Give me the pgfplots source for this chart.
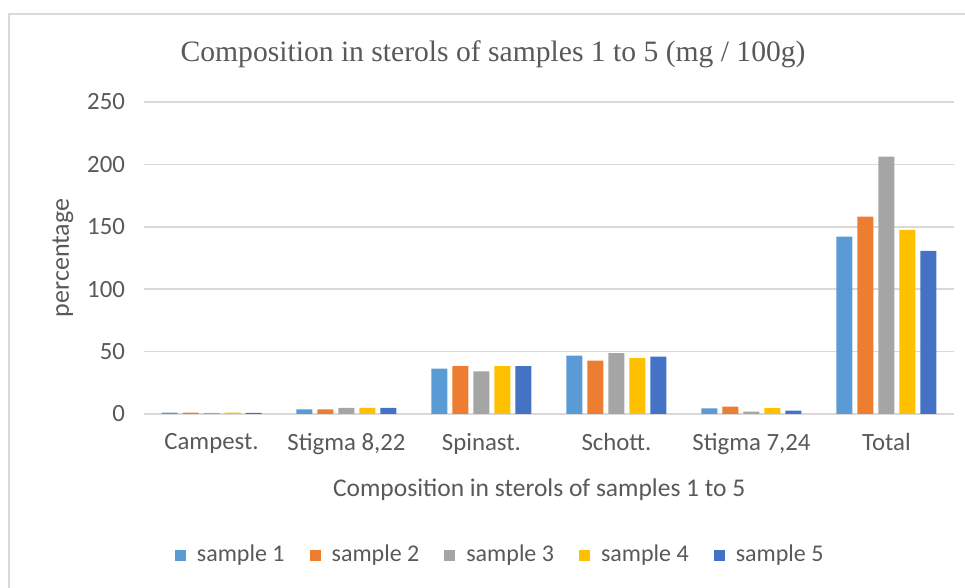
\documentclass[border=0pt]{standalone}
\usepackage{fontspec}
\setmainfont{Carlito}
\newfontfamily\titlefont{Liberation Serif}
\usepackage{pgfplots}
\usepackage{pgfplotstable}
\pgfplotsset{compat=1.18}
\definecolor{sA}{HTML}{5B9BD5}
\definecolor{sB}{HTML}{ED7D31}
\definecolor{sC}{HTML}{A5A5A5}
\definecolor{sD}{HTML}{FFC000}
\definecolor{sE}{HTML}{4472C4}
\definecolor{txt}{HTML}{595959}
\definecolor{grd}{HTML}{D9D9D9}
\pgfplotstableread{
x s1 s2 s3 s4 s5
0 1.0 1.0 0.9 1.0 0.9
1 3.8 3.8 5.0 5.0 5.0
2 36.3 38.3 34.1 38.3 38.3
3 46.8 42.7 48.7 44.7 46.0
4 4.5 5.9 1.9 4.8 2.7
5 142.2 158.2 206.3 147.5 130.7
}\data
\begin{document}
\begin{tikzpicture}
\useasboundingbox (0,0) rectangle (482.5pt,294pt);
\draw[grd, line width=1pt] (4.5pt,0) -- (4.5pt,287pt) -- (482.5pt,287pt);
\begin{axis}[
  at={(72pt,87pt)}, anchor=south west,
  scale only axis, width=405pt, height=156pt,
  ybar=2.5pt, bar width=8pt,
  xmin=-0.5, xmax=5.5, ymin=0, ymax=250,
  ytick={0,50,...,250},
  xtick=data,
  xticklabels={Campest.,{Stigma 8,22},Spinast.,Schott.,{Stigma 7,24},Total},
  major tick length=0pt,
  axis x line*=bottom, axis y line*=left,
  x axis line style={grd, line width=0.75pt},
  y axis line style={draw=none},
  ymajorgrids, grid style={grd, line width=0.75pt},
  /pgf/number format/assume math mode=true,
  ticklabel style={font=\fontsize{12.4}{14}\selectfont, text=txt},
  yticklabel style={anchor=east, xshift=-6pt},
  xticklabel style={anchor=north, yshift=-6pt},
  title={\titlefont\fontsize{14.8}{17}\selectfont Composition in sterols of samples 1 to 5 (mg / 100g)},
  title style={at={(axis description cs:0.431,1.115)}, anchor=center, yshift=0pt, text=txt},
  xlabel={Composition in sterols of samples 1 to 5},
  xlabel style={at={(axis description cs:0.488,-0.2436)}, anchor=center, font=\fontsize{12.75}{15}\selectfont, text=txt},
  ylabel={percentage},
  ylabel style={at={(axis description cs:-0.100,0.5)}, anchor=center, font=\fontsize{13}{15}\selectfont, text=txt},
  legend columns=5,
  legend style={at={(axis description cs:0.441,-0.452)}, anchor=center, draw=none, fill=none,
    font=\fontsize{12}{14}\selectfont, text=txt,
    /tikz/every odd column/.append style={column sep=3.5pt},
    /tikz/every even column/.append style={column sep=10.5pt}},
  legend image code/.code={\fill[#1] (0pt,-2.75pt) rectangle (5.5pt,2.75pt);},
]
\addplot[fill=sA, draw=none] table[x=x,y=s1]{\data};
\addplot[fill=sB, draw=none] table[x=x,y=s2]{\data};
\addplot[fill=sC, draw=none] table[x=x,y=s3]{\data};
\addplot[fill=sD, draw=none] table[x=x,y=s4]{\data};
\addplot[fill=sE, draw=none] table[x=x,y=s5]{\data};
\legend{sample 1,sample 2,sample 3,sample 4,sample 5}
\end{axis}
\end{tikzpicture}
\end{document}
